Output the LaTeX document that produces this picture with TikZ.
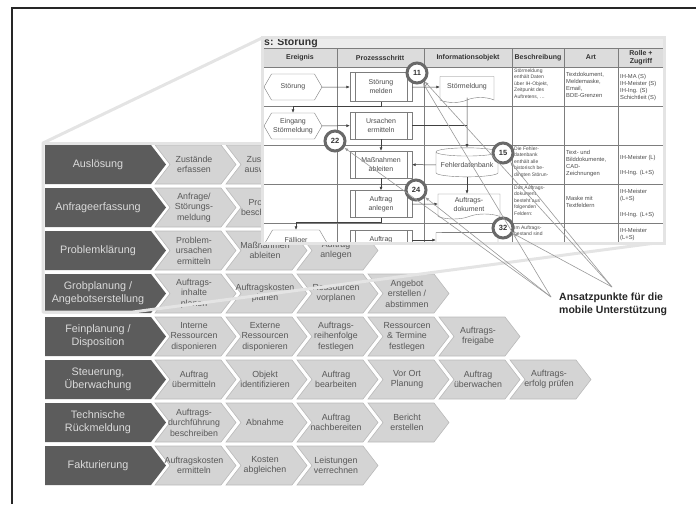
\documentclass[tikz,border=0pt]{standalone}
\usepackage{fontspec}
\setmainfont{Liberation Sans}
\usetikzlibrary{arrows.meta,shapes.symbols,shapes.geometric}

\definecolor{phasegray}{RGB}{92,92,92}
\definecolor{stepgray}{RGB}{212,212,212}
\definecolor{stepline}{RGB}{186,186,186}
\definecolor{steptextgray}{RGB}{88,88,88}
\definecolor{bandgray}{RGB}{228,228,228}
\definecolor{gridgray}{RGB}{125,125,125}
\definecolor{headgray}{RGB}{220,220,220}
\definecolor{titlegray}{RGB}{236,236,236}
\definecolor{ringgray}{RGB}{105,105,105}

\tikzset{
  phase/.style={fill=phasegray},
  phaselabel/.style={text=white!86!black, font=\fontsize{10.8}{13}\selectfont, align=center, inner sep=0},
  stepbox/.style={fill=stepgray, draw=stepline, line width=0.6},
  steplabel/.style={text=steptextgray, font=\fontsize{8.8}{10.4}\selectfont, align=center, inner sep=0},
  band/.style={draw=bandgray, line width=3, line join=round},
  grid line/.style={draw=gridgray, line width=0.5},
  headlabel/.style={font=\bfseries\fontsize{7}{8}\selectfont, text=black!80, align=center, inner sep=0},
  flowtext/.style={font=\fontsize{7}{9}\selectfont, text=black!70, align=center, inner sep=1},
  event/.style={flowtext, signal, signal to=east and west, signal pointer angle=120, draw=gridgray, fill=white, minimum width=58, minimum height=26},
  process/.style={flowtext, draw=gridgray, fill=white, minimum width=62, minimum height=27,
    path picture={\draw[gridgray] ([xshift=5]path picture bounding box.north west) -- ([xshift=5]path picture bounding box.south west)
      ([xshift=-5]path picture bounding box.north east) -- ([xshift=-5]path picture bounding box.south east);}},
  docshape/.style={flowtext, tape, tape bend top=none, tape bend height=5, draw=gridgray, fill=white, minimum height=26},
  database/.style={flowtext, cylinder, shape border rotate=90, aspect=0.15, draw=gridgray, fill=white, minimum width=62, minimum height=29},
  ring/.style={circle, draw=ringgray, line width=3, fill=white, minimum size=20, inner sep=0, font=\bfseries\fontsize{7.5}{8}\selectfont, text=black!80},
  flow/.style={-{Latex[length=3.5,width=3]}, draw=black!75, line width=0.5},
  smalltext/.style={anchor=north west, align=left, inner sep=0, text=black!70, font=\fontsize{5.8}{7}\selectfont},
  desctext/.style={smalltext, font=\fontsize{5}{6.5}\selectfont},
  pointer/.style={-{Latex[length=4,width=3]}, draw=black!40, line width=0.6}
}

\newcommand{\phasechev}[3]{%
  \fill[phase] (45,#1) -- (151,#1) -- (166,#1+19.5) -- (151,#1+39) -- (45,#1+39) -- cycle;
  \node[phaselabel] (#2) at (98,#1+19.5) {#3};}
\newcommand{\stepchev}[4]{%
  \filldraw[stepbox] (#1,#2) -- ++(66,0) -- ++(15,19.5) -- ++(-15,19.5) -- ++(-66,0) -- ++(15,-19.5) -- cycle;
  \node[steplabel] (#3) at (#1+39,#2+19.5) {#4};}

\begin{document}
\begin{tikzpicture}[x=1pt,y=-1pt]
\useasboundingbox (0,0) rectangle (696,504);
\draw[line width=2, black!85] (12,504) -- (12,8) -- (696,8);

\phasechev{145}{ph1}{Auslösung}
\stepchev{155}{145}{s11}{Zustände\\erfassen}
\stepchev{226}{145}{s12}{Zustände\\auswerten}

\phasechev{188}{ph2}{Anfrageerfassung}
\stepchev{155}{188}{s21}{Anfrage/\\Störungs-\\meldung}
\stepchev{226}{188}{s22}{Problem\\beschreiben}

\phasechev{231}{ph3}{Problemklärung}
\stepchev{155}{231}{s31}{Problem-\\ursachen\\ermitteln}
\stepchev{226}{231}{s32}{Maßnahmen\\ableiten}
\stepchev{297}{231}{s33}{Auftrag\\anlegen}

\phasechev{274}{ph4}{Grobplanung /\\Angebotserstellung}
\stepchev{155}{274}{s41}{Auftrags-\\inhalte\\planen}
\stepchev{226}{274}{s42}{Auftragskosten\\planen}
\stepchev{297}{274}{s43}{Ressourcen\\vorplanen}
\stepchev{368}{274}{s44}{Angebot\\erstellen /\\abstimmen}

\phasechev{317}{ph5}{Feinplanung /\\Disposition}
\stepchev{155}{317}{s51}{Interne\\Ressourcen\\disponieren}
\stepchev{226}{317}{s52}{Externe\\Ressourcen\\disponieren}
\stepchev{297}{317}{s53}{Auftrags-\\reihenfolge\\festlegen}
\stepchev{368}{317}{s54}{Ressourcen\\\& Termine\\festlegen}
\stepchev{439}{317}{s55}{Auftrags-\\freigabe}

\phasechev{360}{ph6}{Steuerung,\\Überwachung}
\stepchev{155}{360}{s61}{Auftrag\\übermitteln}
\stepchev{226}{360}{s62}{Objekt\\identifizieren}
\stepchev{297}{360}{s63}{Auftrag\\bearbeiten}
\stepchev{368}{360}{s64}{Vor Ort\\Planung}
\stepchev{439}{360}{s65}{Auftrag\\überwachen}
\stepchev{510}{360}{s66}{Auftrags-\\erfolg prüfen}

\phasechev{403}{ph7}{Technische\\Rückmeldung}
\stepchev{155}{403}{s71}{Auftrags-\\durchführung\\beschreiben}
\stepchev{226}{403}{s72}{Abnahme}
\stepchev{297}{403}{s73}{Auftrag\\nachbereiten}
\stepchev{368}{403}{s74}{Bericht\\erstellen}

\phasechev{446}{ph8}{Fakturierung}
\stepchev{155}{446}{s81}{Auftragskosten\\ermitteln}
\stepchev{226}{446}{s82}{Kosten\\abgleichen}
\stepchev{297}{446}{s83}{Leistungen\\verrechnen}

\draw[band] (262,38) -- (43,143) -- (43,312) -- (133,312) -- (663,242);
\draw[band] (43,143) -- (262,143);

\fill[white] (262,37) rectangle (664,243);
\begin{scope}
\clip (262,37) rectangle (664,243);
\fill[titlegray] (262,37) rectangle (664,48);
\fill[headgray] (262,48) rectangle (664,67);
\node[anchor=west, inner sep=0, font=\bfseries\fontsize{10.5}{11}\selectfont, text=black!80] (title) at (264,42.5) {s: Störung};
\draw[grid line] (262,48) -- (664,48);
\draw[grid line] (262,67) -- (664,67);
\draw[grid line] (262,106) -- (664,106);
\draw[grid line] (262,145) -- (664,145);
\draw[grid line] (262,184) -- (664,184);
\draw[grid line] (262,223) -- (664,223);
\draw[grid line] (337,48) -- (337,243);
\draw[grid line] (424,48) -- (424,243);
\draw[grid line] (512,48) -- (512,243);
\draw[grid line] (564,48) -- (564,243);
\draw[grid line] (618,48) -- (618,243);
\node[headlabel] (h1) at (300,57.5) {Ereignis};
\node[headlabel] (h2) at (380,57.5) {Prozessschritt};
\node[headlabel] (h3) at (468,57.5) {Informationsobjekt};
\node[headlabel] (h4) at (538,57.5) {Beschreibung};
\node[headlabel] (h5) at (591,57.5) {Art};
\node[headlabel] (h6) at (641,57.5) {Rolle +\\Zugriff};

\node[event] (ev1) at (293,87) {Störung};
\node[event] (ev2) at (293,126) {Eingang\\Störmeldung};
\node[event, minimum width=62] (ev3) at (296,243) {\raisebox{7pt}{Fälliger}};
\node[process, minimum height=29] (p1) at (381,87) {Störung\\melden};
\node[process] (p2) at (381,125.5) {Ursachen\\ermitteln};
\node[process] (p3) at (381,164.5) {Maßnahmen\\ableiten};
\node[process] (p4) at (381,204) {Auftrag\\anlegen};
\node[process, minimum height=20] (p5) at (381,240) {Auftrag};
\node[docshape, minimum width=54] (o1) at (467,87) {Störmeldung};
\node[database] (o2) at (467,165) {Fehlerdatenbank};
\node[docshape, minimum width=62, minimum height=25] (o3) at (469,204) {Auftrags-\\dokument};
\node[database] (o4) at (467,247) {};

\draw[flow] (ev1) -- (p1);
\draw[flow] (p1) -- (o1);
\draw[flow] (p1.south) -- ++(0,5) -| (ev2.north);
\draw[flow] (ev2) -- (p2);
\draw[black!75, line width=0.5] (p2.east) -- (p2.east -| o1.south);
\draw[flow] (o1.south) -- (o2.north);
\draw[flow] (p2) -- (p3);
\draw[flow] (o2) -- (p3);
\draw[flow] (p3) -- (p4);
\draw[flow] (o2.south) -- (o2.south |- o3.north);
\draw[flow] (p4) -- (o3);
\draw[flow] (p4.south) -- ++(0,4.5) -| (ev3.north);
\draw[flow] (p5.east) -- (p5.east -| o4.west);

\node[desctext] (b1) at (514,68.5) {Störmeldung\\enthält Daten\\über IH-Objekt,\\Zeitpunkt des\\Auftretens, \dots};
\node[smalltext] (a1) at (566,72) {Textdokument,\\Meldemaske,\\Email,\\BDE-Grenzen};
\node[smalltext] (r1) at (620,74) {IH-MA (S)\\IH-Meister (S)\\IH-Ing. (S)\\Schichtleit (S)};
\node[desctext] (b3) at (514,146.5) {Die Fehler-\\datenbank\\enthält alle\\historisch be-\\dingten Störun-};
\node[smalltext] (a3) at (566,150) {Text- und\\Bilddokumente,\\CAD-\\Zeichnungen};
\node[smalltext] (r3a) at (620,155) {IH-Meister (L)};
\node[smalltext] (r3b) at (620,170) {IH-Ing. (L+S)};
\node[desctext] (b4) at (514,185.5) {Das Auftrags-\\dokument\\besteht aus\\folgenden\\Feldern:};
\node[smalltext] (a4) at (566,196) {Maske mit\\Textfeldern};
\node[smalltext] (r4a) at (620,189) {IH-Meister\\(L+S)};
\node[smalltext] (r4b) at (620,212) {IH-Ing. (L+S)};
\node[desctext] (b5) at (514,225.5) {Im Auftrags-\\bestand sind};
\node[smalltext] (r5) at (620,228) {IH-Meister\\(L+S)};

\node[ring] (c11) at (417,73) {11};
\node[ring] (c22) at (335,141) {22};
\node[ring] (c15) at (503,153) {15};
\node[ring] (c24) at (416,190) {24};
\node[ring] (c32) at (503,228) {32};
\end{scope}
\draw[line width=3, draw=bandgray] (262,37) rectangle (664,243);

\node[anchor=north west, inner sep=0, align=left, font=\bfseries\fontsize{10.5}{12.5}\selectfont, text=black!85] (hint) at (559,293) {Ansatzpunkte für die\\mobile Unterstützung};
\coordinate (P1) at (551,297);
\coordinate (P2) at (612,287);
\draw[pointer] (P1) -- (c22);
\draw[pointer] (P1) -- (c24);
\draw[pointer] (P1) -- (c11);
\draw[pointer] (P2) -- (c11);
\draw[pointer] (P2) -- (c15);
\draw[pointer] (P2) -- (c32);
\end{tikzpicture}
\end{document}
